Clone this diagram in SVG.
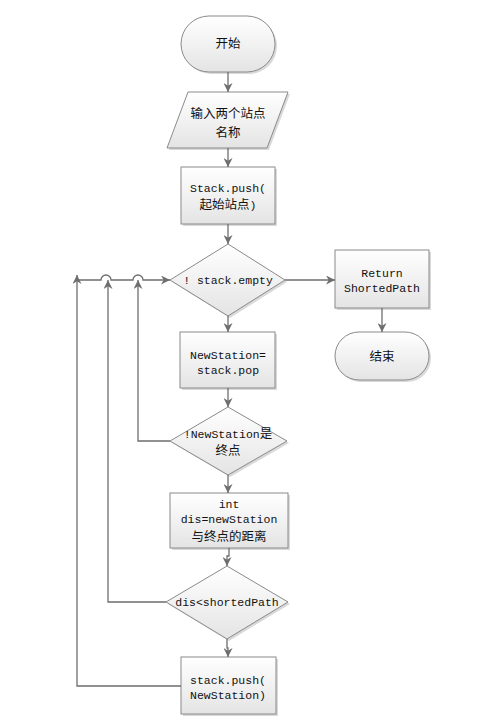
<svg xmlns="http://www.w3.org/2000/svg" width="486" height="728" viewBox="0 0 486 728">
<defs>
<linearGradient id="g" x1="0" y1="0" x2="0" y2="1">
<stop offset="0" stop-color="#ffffff"/>
<stop offset="1" stop-color="#e4e4e4"/>
</linearGradient>
<marker id="a" viewBox="0 0 10 10" refX="10" refY="5" markerWidth="9" markerHeight="9" markerUnits="userSpaceOnUse" orient="auto">
<path d="M0,0 L10,5 L0,10 L3,5 Z" fill="#6e6e6e"/>
</marker>
<style>
.s{fill:url(#g);stroke:#8a8a8a;stroke-width:1}
.sh{fill:#d9d9d9;stroke:none}
.c{fill:none;stroke:#6e6e6e;stroke-width:1.3}
text{font-family:"Liberation Mono","Noto Sans CJK SC",monospace;font-size:11.5px;fill:#111111;text-anchor:middle}
.z{font-family:"Noto Sans CJK SC",sans-serif;font-size:12.5px}
</style>
</defs>
<rect width="486" height="728" fill="#ffffff"/>

<g id="start">
<rect class="sh" x="183" y="18" width="94" height="56" rx="28"/>
<rect class="s" x="181" y="16" width="94" height="56" rx="28"/>
<text x="228" y="48"><tspan class="z">开始</tspan></text>
</g>

<g id="input">
<polygon class="sh" points="190,94 290,94 269,150 169,150"/>
<polygon class="s" points="188,92 288,92 267,148 167,148"/>
<text x="228" y="118"><tspan class="z">输入两个站点</tspan></text>
<text x="228" y="137"><tspan class="z">名称</tspan></text>
</g>

<g id="push1">
<rect class="sh" x="183" y="169" width="94" height="57"/>
<rect class="s" x="181" y="167" width="94" height="57"/>
<text x="228" y="192">Stack.push(</text>
<text x="228" y="209"><tspan class="z">起始站点</tspan>)</text>
</g>

<g id="empty">
<polygon class="sh" points="230,246 287,282 230,318 172,282"/>
<polygon class="s" points="228,244 285,280 228,316 170,280"/>
<text x="228" y="284">! stack.empty</text>
</g>

<g id="ret">
<rect class="sh" x="337" y="252" width="94" height="58"/>
<rect class="s" x="335" y="250" width="94" height="58"/>
<text x="382" y="277">Return</text>
<text x="382" y="292">ShortedPath</text>
</g>

<g id="end">
<rect class="sh" x="337" y="334" width="94" height="48" rx="24"/>
<rect class="s" x="335" y="332" width="94" height="48" rx="24"/>
<text x="382" y="361"><tspan class="z">结束</tspan></text>
</g>

<g id="pop">
<rect class="sh" x="182" y="334" width="95" height="56"/>
<rect class="s" x="180" y="332" width="95" height="56"/>
<text x="228" y="359">NewStation=</text>
<text x="228" y="374">stack.pop</text>
</g>

<g id="isend">
<polygon class="sh" points="230,409 289,443 230,477 172,443"/>
<polygon class="s" points="228,407 287,441 228,475 170,441"/>
<text x="228" y="438">!NewStation<tspan class="z">是</tspan></text>
<text x="228" y="455"><tspan class="z">终点</tspan></text>
</g>

<g id="dist">
<rect class="sh" x="172" y="495" width="118" height="55"/>
<rect class="s" x="170" y="493" width="118" height="55"/>
<text x="229" y="508">int</text>
<text x="229" y="523">dis=newStation</text>
<text x="229" y="541"><tspan class="z">与终点的距离</tspan></text>
</g>

<g id="cmp">
<polygon class="sh" points="229,568 290,604 229,641 168,604"/>
<polygon class="s" points="227,566 288,602 227,639 166,602"/>
<text x="227" y="606">dis&lt;shortedPath</text>
</g>

<g id="push2">
<rect class="sh" x="183" y="659" width="95" height="57"/>
<rect class="s" x="181" y="657" width="95" height="57"/>
<text x="228" y="684">stack.push(</text>
<text x="228" y="699">NewStation)</text>
</g>

<g id="connectors">
<path class="c" d="M228,72 V92" marker-end="url(#a)"/>
<path class="c" d="M228,148 V167" marker-end="url(#a)"/>
<path class="c" d="M228,224 V244" marker-end="url(#a)"/>
<path class="c" d="M285,280 H335" marker-end="url(#a)"/>
<path class="c" d="M382,308 V332" marker-end="url(#a)"/>
<path class="c" d="M228,316 V332" marker-end="url(#a)"/>
<path class="c" d="M228,388 V407" marker-end="url(#a)"/>
<path class="c" d="M228,475 V493" marker-end="url(#a)"/>
<path class="c" d="M229,548 V556 H227 V566" marker-end="url(#a)"/>
<path class="c" d="M227,639 V648 H228 V657" marker-end="url(#a)"/>
<path class="c" d="M170,441 H138 V280" marker-end="url(#a)"/>
<path class="c" d="M166,602 H108 V280" marker-end="url(#a)"/>
<path class="c" d="M181,686 H77 V275" marker-end="url(#a)"/>
<path class="c" d="M77,280 H101 A5,5 0 0 1 111,280 H133 A5,5 0 0 1 143,280 H170" marker-end="url(#a)"/>
</g>
</svg>
